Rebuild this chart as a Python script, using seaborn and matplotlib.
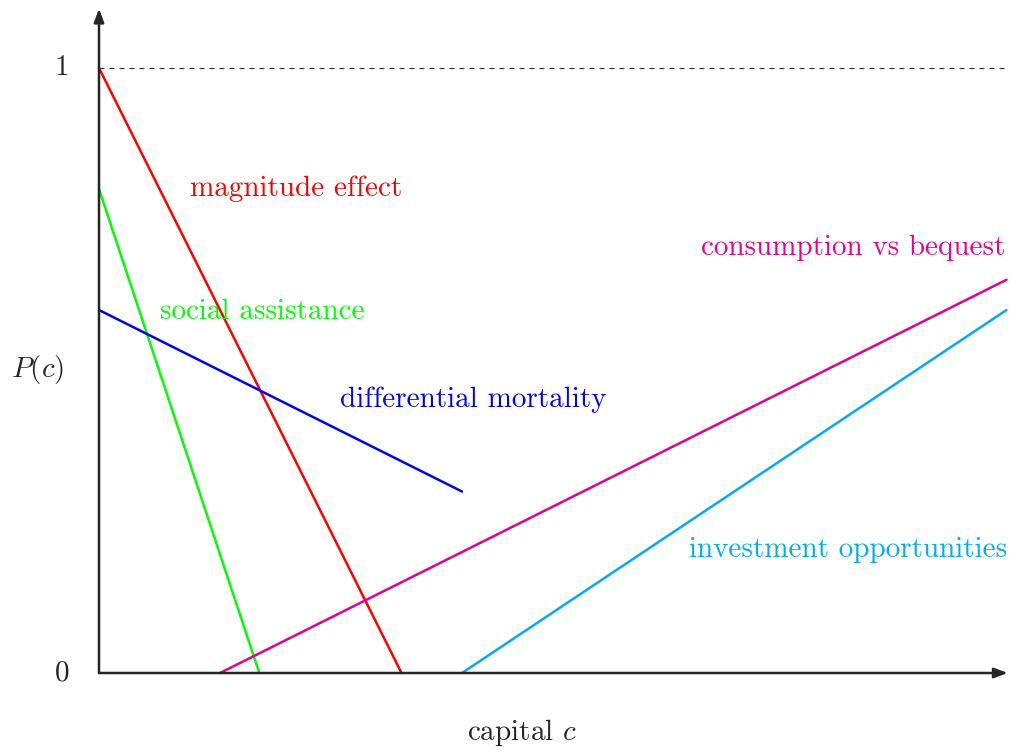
import pandas as pd
import seaborn as sns
import matplotlib.pyplot as plt

# Line endpoints (capital c, probability P(c))
labels = ["magnitude effect", "social assistance", "differential mortality",
          "consumption vs bequest", "investment opportunities"]
x_start = [0.0, 0.0, 0.0, 0.2, 0.6]
y_start = [1.0, 0.8, 0.6, 0.0, 0.0]
x_end = [0.5, 0.265, 0.6, 1.5, 1.5]
y_end = [0.0, 0.0, 0.3, 0.65, 0.6]
colors = ["#ff0000", "#00ff00", "#0000ff", "#ec008c", "#00aeef"]

# Label anchor positions (centre of text)
label_x = [0.325, 0.27, 0.618, 1.246, 1.238]
label_y = [0.80, 0.597, 0.451, 0.702, 0.203]

rows = []
for name, x0, y0, x1, y1 in zip(labels, x_start, y_start, x_end, y_end):
    rows.append({"series": name, "c": x0, "P": y0})
    rows.append({"series": name, "c": x1, "P": y1})
df = pd.DataFrame(rows)

sns.set_style("white")
plt.rcParams["font.family"] = ["cmr10", "DejaVu Serif"]
plt.rcParams["mathtext.fontset"] = "cm"

fig = plt.figure(figsize=(10.13, 7.53), dpi=100)
ax = fig.add_axes([0, 0, 1, 1])
ax.set_xlim(-99 / 605, 914 / 605)
ax.set_ylim(-80 / 605, 673 / 605)
ax.axis("off")

# dashed line at P = 1
ax.plot([0, 1.5], [1, 1], ls=(0, (4, 4)), color="#333333", lw=0.9)

sns.lineplot(data=df, x="c", y="P", hue="series", palette=dict(zip(labels, colors)),
             linewidth=1.8, legend=False, ax=ax, sort=False, zorder=2)

# axes with arrow heads
arrow = dict(arrowstyle="-|>,head_length=0.8,head_width=0.3", color="#262626", lw=1.8,
             shrinkA=0, shrinkB=0)
ax.annotate("", xy=(1.502, 0), xytext=(0, 0), arrowprops=arrow, zorder=3)
ax.annotate("", xy=(0, 1.098), xytext=(0, 0), arrowprops=arrow, zorder=3)

fs = 21
for name, lx, ly, col in zip(labels, label_x, label_y, colors):
    ax.text(lx, ly, name, color=col, fontsize=fs, ha="center", va="center", zorder=4)

ax.text(-0.061, 1.0, "1", fontsize=fs, ha="center", va="center", color="#262626")
ax.text(-0.061, 0.0, "0", fontsize=fs, ha="center", va="center", color="#262626")
ax.text(-0.101, 0.502, r"$P(c)$", fontsize=fs, ha="center", va="center", color="#262626")
ax.text(0.699, -0.099, r"capital $c$", fontsize=fs, ha="center", va="center", color="#262626")

fig.savefig("out.png", dpi=100)
